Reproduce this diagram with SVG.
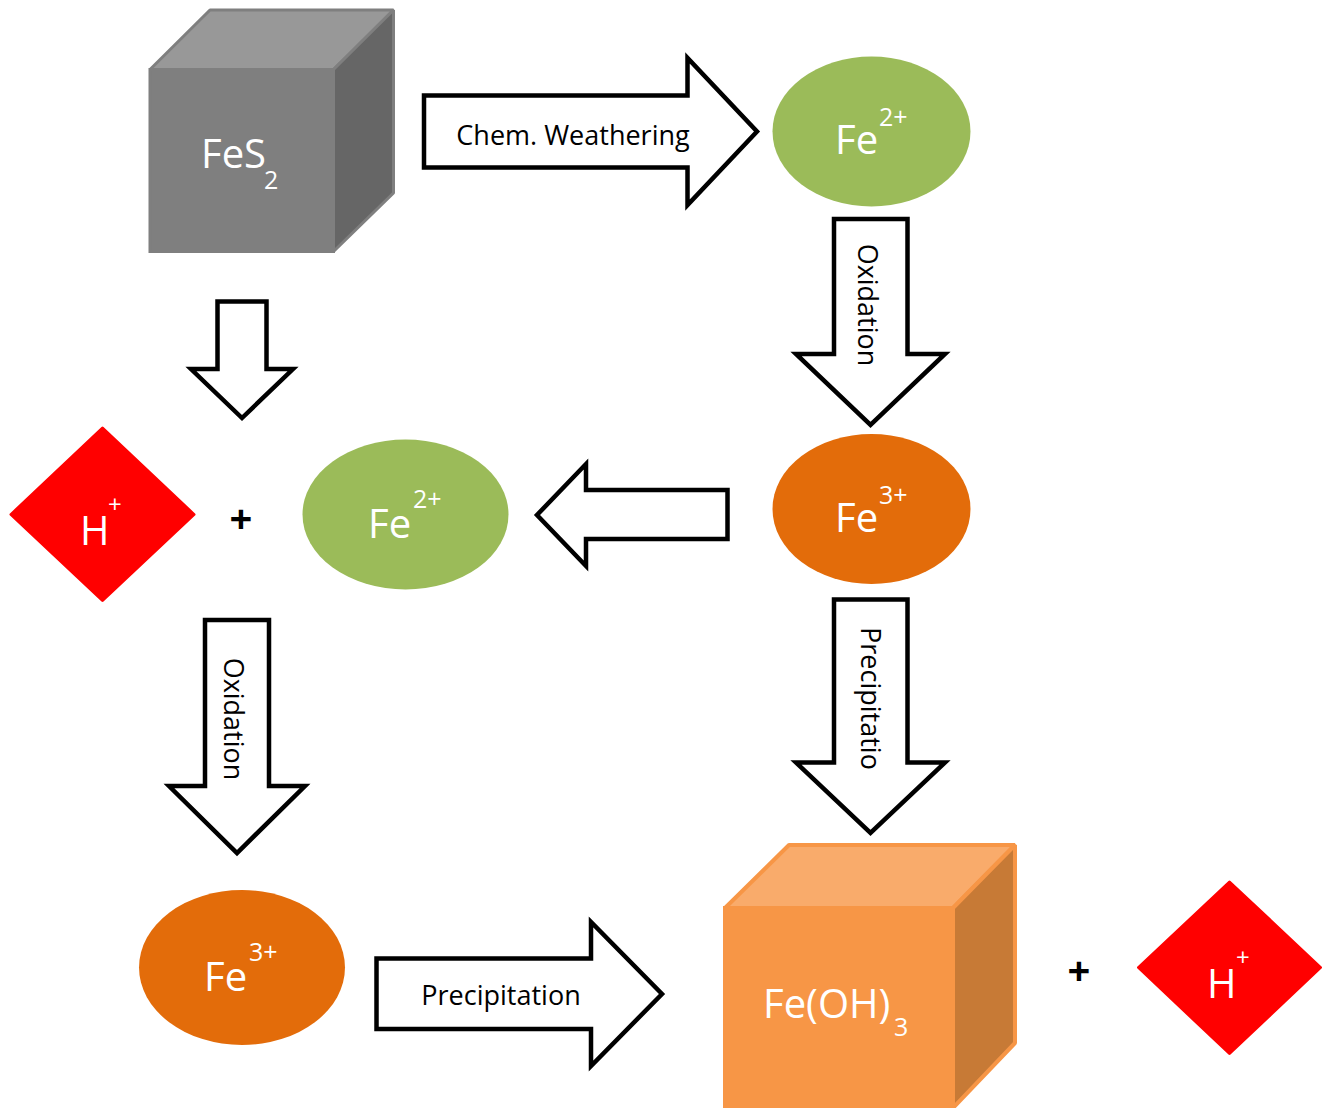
<svg xmlns="http://www.w3.org/2000/svg" width="1328" height="1108" viewBox="0 0 1328 1108">
<style>
.arrow{fill:#fff;stroke:#000;stroke-width:4.5;stroke-linejoin:miter}
.lbl{font-family:"Open Sans","DejaVu Sans",sans-serif;fill:#000;font-size:27px}
.big{font-family:"Open Sans","DejaVu Sans",sans-serif;fill:#fff;font-size:40px}
.sup{font-family:"Open Sans","DejaVu Sans",sans-serif;fill:#fff;font-size:25px}
.hsup{font-family:"Open Sans","DejaVu Sans",sans-serif;fill:#fff;font-size:24px}
.plus{font-family:"Open Sans","DejaVu Sans",sans-serif;fill:#000;font-size:40px;font-weight:bold;text-anchor:middle}
.green{fill:#9BBB59}
.orange{fill:#E36C0A}
.red{fill:#FF0000;stroke:#FF0000;stroke-width:3;stroke-linejoin:round}
</style>
<rect width="1328" height="1108" fill="#fff"/>
<g id="connectors">
  <path class="arrow" d="M424,95.5 H687.5 V58 L757,131.5 L687.5,205 V167.5 H424 Z"/>
  <text class="lbl" x="573" y="145" text-anchor="middle">Chem. Weathering</text>
  <path class="arrow" d="M834,219 H907.5 V354 H945 L870.5,425 L796,354 H834 Z"/>
  <text class="lbl" text-anchor="middle" transform="translate(858,305) rotate(90)">Oxidation</text>
  <path class="arrow" d="M727.5,490 H586 V464 L537,515 L586,566 V539 H727.5 Z"/>
  <path class="arrow" d="M217.5,301.5 H266.5 V369 H293 L242,418 L191,369 H217.5 Z"/>
  <path class="arrow" d="M205,620 H269 V786 H305 L237,853 L169,786 H205 Z"/>
  <text class="lbl" text-anchor="middle" transform="translate(224,719) rotate(90)">Oxidation</text>
  <path class="arrow" d="M834,599.5 H907.5 V762.5 H945 L870.5,833 L796,762.5 H834 Z"/>
  <text class="lbl" text-anchor="middle" transform="translate(861,698.5) rotate(90)">Precipitatio</text>
  <path class="arrow" d="M376.5,958.5 H591 V922 L662,994 L591,1066 V1029 H376.5 Z"/>
  <text class="lbl" x="501" y="1005" text-anchor="middle">Precipitation</text>
</g>
<g id="fes2">
  <rect x="150" y="69.5" width="183.5" height="182" fill="#7F7F7F" stroke="#7F7F7F" stroke-width="3"/>
  <polygon points="150,69.5 210,10 393.5,10 333.5,69.5" fill="#989898" stroke="#7F7F7F" stroke-width="3" stroke-linejoin="bevel"/>
  <polygon points="333.5,69.5 393.5,10 393.5,193 333.5,251.5" fill="#666666" stroke="#7F7F7F" stroke-width="3" stroke-linejoin="bevel"/>
  <text class="big" x="201" y="168">FeS</text>
  <text class="sup" x="264" y="189">2</text>
</g>
<g id="fe2-top">
  <ellipse class="green" cx="871.5" cy="131.5" rx="99" ry="75"/>
  <text class="big" x="835" y="154">Fe</text>
  <text class="sup" x="879" y="126">2+</text>
</g>
<g id="fe3-right">
  <ellipse class="orange" cx="871.5" cy="509" rx="99" ry="75"/>
  <text class="big" x="835" y="532">Fe</text>
  <text class="sup" x="879" y="504">3+</text>
</g>
<g id="h-left">
  <polygon class="red" points="102.5,428 194,514.5 102.5,600.5 11,514.5"/>
  <text class="big" x="80" y="545">H</text>
  <text class="hsup" x="108" y="513">+</text>
</g>
<g id="plus-left"><text class="plus" x="241" y="533">+</text></g>
<g id="fe2-left">
  <ellipse class="green" cx="405.5" cy="514.5" rx="103" ry="75"/>
  <text class="big" x="368" y="538">Fe</text>
  <text class="sup" x="413" y="508">2+</text>
</g>
<g id="fe3-bottom">
  <ellipse class="orange" cx="242" cy="967.5" rx="103" ry="77.5"/>
  <text class="big" x="204" y="991">Fe</text>
  <text class="sup" x="249" y="961">3+</text>
</g>
<g id="feoh3">
  <rect x="725" y="908" width="228" height="210" fill="#F79646" stroke="#F79646" stroke-width="4"/>
  <polygon points="725,908 789,845 1015,845 953,908" fill="#F9AB6B" stroke="#F79646" stroke-width="4" stroke-linejoin="bevel"/>
  <polygon points="953,908 1015,845 1015,1043 953,1108" fill="#C77A36" stroke="#F79646" stroke-width="4" stroke-linejoin="bevel"/>
  <text class="big" x="763" y="1018">Fe(OH)</text>
  <text class="sup" x="894" y="1036">3</text>
</g>
<g id="plus-right"><text class="plus" x="1079" y="985">+</text></g>
<g id="h-right">
  <polygon class="red" points="1229.5,882 1320.5,967.5 1229.5,1053.5 1138.5,967.5" />
  <text class="big" x="1207" y="998">H</text>
  <text class="hsup" x="1236" y="966">+</text>
</g>
</svg>
